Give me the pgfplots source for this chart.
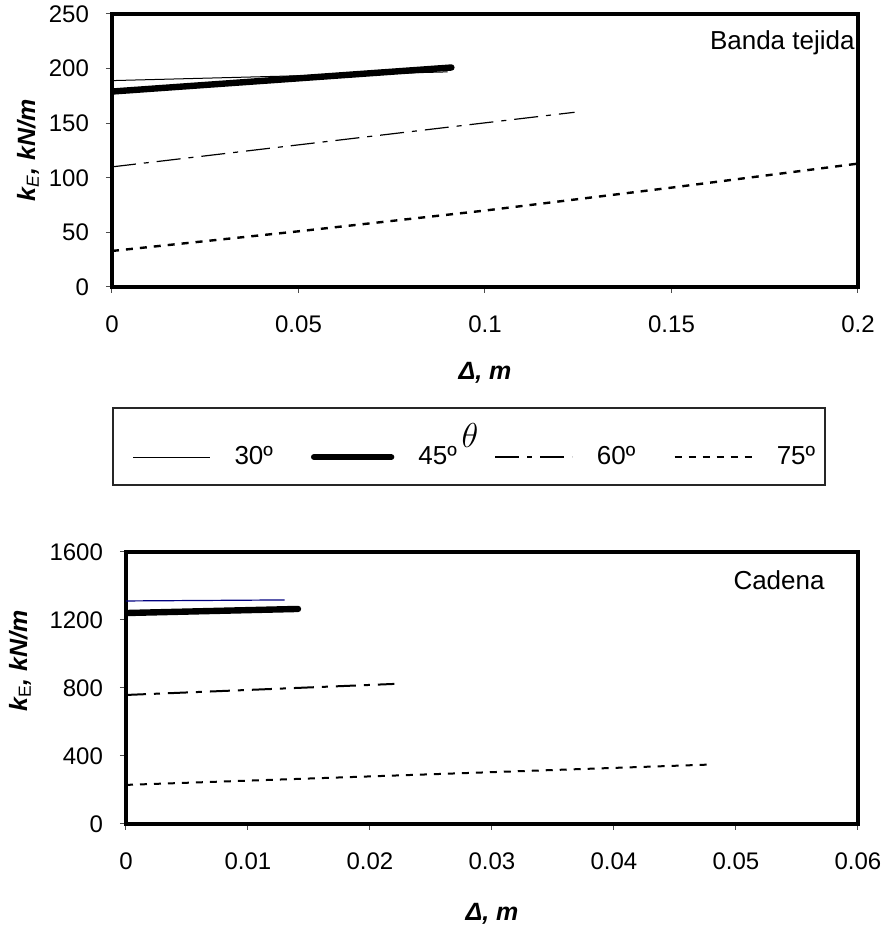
\documentclass[border=0pt]{standalone}
\usepackage{fontspec}
\setmainfont{Liberation Sans}
\usepackage{pgfplots}
\pgfplotsset{compat=1.18}
\definecolor{navy}{RGB}{0,0,128}

\pgfplotsset{
  excelstyle/.style={
    scale only axis,
    axis line style={line width=2pt, black},
    tick align=outside,
    major tick length=3pt,
    tick style={line width=0.5pt, gray!60!black},
    xtick pos=bottom, ytick pos=left,
    scaled x ticks=false, scaled y ticks=false,
    /pgf/number format/assume math mode=true,
    /pgf/number format/1000 sep={},
    tick label style={font=\fontsize{12}{14}\selectfont},
    xticklabel style={font=\fontsize{12}{14}\selectfont, /pgf/number format/fixed, /pgf/number format/precision=3, yshift=-8pt},
    yticklabel style={font=\fontsize{12}{14}\selectfont, xshift=-5pt},
    label style={font=\fontsize{12.5}{15}\selectfont\bfseries\itshape},
    xlabel style={at={(axis description cs:0.5,0)}, anchor=center, yshift=-43pt},
  }
}

\begin{document}
\begin{tikzpicture}
\useasboundingbox (0,0) rectangle (441.5pt,464pt);

% ---------- top axis ----------
\begin{axis}[excelstyle,
  at={(56pt,320.5pt)}, anchor=south west,
  width=373pt, height=136.5pt,
  xmin=0, xmax=0.2, ymin=0, ymax=250,
  xtick={0,0.05,0.1,0.15,0.2},
  ytick={0,50,100,150,200,250},
  xlabel={Δ, m},
  ylabel={k\textsubscript{\mdseries E}, kN/m},
  ylabel style={at={(axis description cs:0,0.5)}, anchor=center, yshift=42pt},
  legend columns=4,
  legend image code/.code={\draw[#1] (0pt,0pt) -- (38.5pt,0pt);},
  legend style={at={(axis description cs:0.027,-0.623)}, anchor=west,
    draw=none, fill=none, inner sep=0pt,
    font=\fontsize{13}{15}\selectfont,
    /tikz/every odd column/.append style={column sep=10pt},
    /tikz/every even column/.append style={column sep=17pt}},
]
\addplot[black, line width=0.5pt] coordinates {(0,189) (0.09,197)};
\addlegendentry{30º}
\addplot[black, line width=3.2pt, line cap=round] coordinates {(0,179) (0.091,201)};
\addlegendentry{45º}
\addplot[black, line width=0.6pt, dash pattern=on 12pt off 4pt on 2.5pt off 4pt] coordinates {(0,110) (0.124,160)};
\addlegendentry{60º}
\addplot[black, line width=1.2pt, dash pattern=on 3.5pt off 3.5pt] coordinates {(0,33) (0.05,51) (0.1,70) (0.15,91) (0.2,113)};
\addlegendentry{75º}
\node[anchor=east, font=\fontsize{13}{15}\selectfont, inner sep=0pt] at ([xshift=-1.5pt,yshift=-14.5pt]rel axis cs:1,1) {Banda tejida};
\end{axis}

% legend frame and title
\draw[line width=0.8pt, black!85] (56.5pt,221.5pt) rectangle (412.5pt,260pt);
\node at (235pt,246pt) {\fontsize{16}{16}\selectfont$\theta$};

% ---------- bottom axis ----------
\begin{axis}[excelstyle,
  at={(63pt,52pt)}, anchor=south west,
  width=366pt, height=136pt,
  xmin=0, xmax=0.06, ymin=0, ymax=1600,
  xtick={0,0.01,0.02,0.03,0.04,0.05,0.06},
  ytick={0,400,800,1200,1600},
  xlabel={Δ, m},
  xlabel style={yshift=-2pt},
  ylabel={k\textsubscript{\mdseries\upshape E}, kN/m},
  ylabel style={at={(axis description cs:0,0.6)}, anchor=center, yshift=53pt},
]
\addplot[navy, line width=0.6pt] coordinates {(0,1312) (0.013,1318)};
\addplot[black, line width=3.2pt, line cap=round] coordinates {(0,1241) (0.0141,1265)};
\addplot[black, line width=1pt, dash pattern=on 10pt off 4pt on 3pt off 4pt] coordinates {(0,759) (0.022,824)};
\addplot[black, line width=1pt, dash pattern=on 3.5pt off 3.5pt] coordinates {(0,230) (0.048,350)};
\node[anchor=east, font=\fontsize{13}{15}\selectfont, inner sep=0pt] at ([xshift=-16.5pt,yshift=-14pt]rel axis cs:1,1) {Cadena};
\end{axis}
\end{tikzpicture}
\end{document}
